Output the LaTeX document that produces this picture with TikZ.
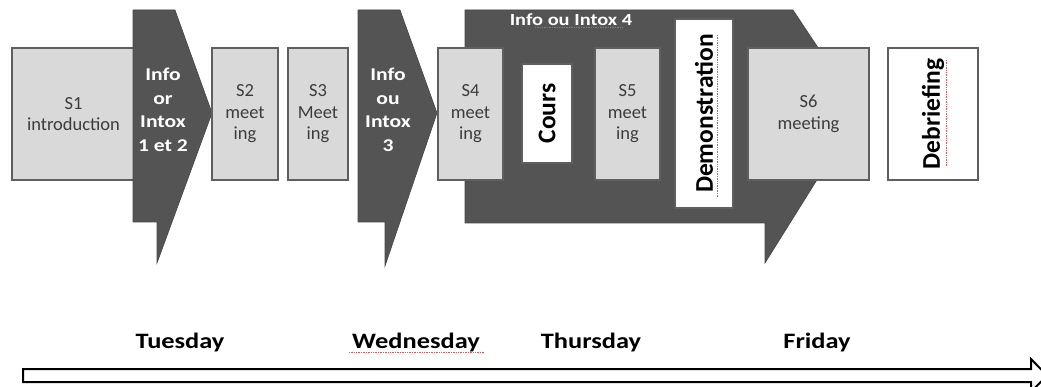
\documentclass[tikz,border=0pt]{standalone}
\usepackage{fontspec}
\setmainfont{Carlito}
\newfontfamily\widefont[FakeStretch=1.2]{Carlito}
\definecolor{boxfill}{RGB}{217,217,217}
\definecolor{boxline}{RGB}{95,95,95}
\definecolor{darkg}{RGB}{84,84,84}
\definecolor{sgray}{RGB}{60,60,60}
\definecolor{squig}{RGB}{220,90,90}
\tikzset{
  sbox/.style={draw=boxline, fill=boxfill, line width=1.3pt, inner sep=0pt, align=center,
    minimum height=132pt, text=sgray, font=\fontsize{18.5}{21.5}\selectfont},
  wbox/.style={draw=boxline, fill=white, line width=1.3pt, inner sep=0pt},
  vtext/.style={rotate=90, font=\bfseries\fontsize{25.5}{28}\selectfont, text=black},
  darkarrow/.style={fill=darkg, draw=darkg!85!black, line width=0.6pt},
  arrowtext/.style={align=center, text=white, font=\widefont\bfseries\fontsize{18}{23.5}\selectfont},
  daylabel/.style={font=\widefont\bfseries\fontsize{22}{26}\selectfont, text=black},
  squiggle/.style={draw=squig, line width=0.7pt, densely dotted},
}
\begin{document}
\begin{tikzpicture}[x=1pt,y=-1pt]
\useasboundingbox[fill=white] (0,0) rectangle (1041,387);

% S1
\node[sbox, minimum width=123pt] (s1) at (73.5,114) {S1\\introduction};
% Arrow 1
\draw[darkarrow] (133,10) -- (175,10) -- (212,113) -- (157,263) -- (157,222) -- (133,222) -- cycle;
\node[arrowtext] (a1) at (163,110) {Info\\or\\Intox\\1 et 2};
% S2, S3
\node[sbox, minimum width=66pt] (s2) at (245,114) {S2\\meet\\ing};
\node[sbox, minimum width=60pt] (s3) at (318,114) {S3\\Meet\\ing};
% Arrow 2
\draw[darkarrow] (358,10) -- (400,10) -- (437,113) -- (385,266) -- (385,222) -- (358,222) -- cycle;
\node[arrowtext] (a2) at (388,110) {Info\\ou\\Intox\\3};
% Big arrow 4
\draw[darkarrow] (465,10) -- (793,10) -- (860,111) -- (765,263) -- (765,223) -- (465,223) -- cycle;
\node[arrowtext, font=\widefont\bfseries\fontsize{17}{20}\selectfont] (a4) at (571,20) {Info ou Intox 4};
\draw[squiggle] (535,27.5) -- (623,27.5);
% S4, Cours, S5, Demonstration, S6, Debriefing
\node[sbox, minimum width=65pt] (s4) at (470.5,114) {S4\\meet\\ing};
\node[wbox, minimum width=50pt, minimum height=99pt] (cours) at (547,113.5) {};
\node[vtext] (coursT) at (cours.center) {Cours};
\node[sbox, minimum width=65pt] (s5) at (627.5,114) {S5\\meet\\ing};
\node[wbox, minimum width=58pt, minimum height=189pt] (demo) at (704,113.5) {};
\node[vtext] (demoT) at (demo.center) {Demonstration};
\draw[squiggle] (717,35) -- (717,197);
\node[sbox, minimum width=121pt] (s6) at (808.5,114) {S6\\meeting};
\node[wbox, minimum width=90pt, minimum height=132pt] (deb) at (933,114) {};
\node[vtext] (debT) at (deb.center) {Debriefing};
\draw[squiggle] (946.5,60) -- (946.5,167);

% Days
\node[daylabel] (tue) at (180,343) {Tuesday};
\node[daylabel] (wed) at (416,343) {Wednesday};
\draw[squiggle] (349,352.5) -- (484,352.5);
\node[daylabel] (thu) at (591,343) {Thursday};
\node[daylabel] (fri) at (817,343) {Friday};

% Timeline arrow
\draw[line width=2pt, fill=white, line join=miter] (23,369) -- (1031,369) -- (1031,359) -- (1047,375.5) -- (1031,392) -- (1031,382) -- (23,382) -- cycle;
\end{tikzpicture}
\end{document}
